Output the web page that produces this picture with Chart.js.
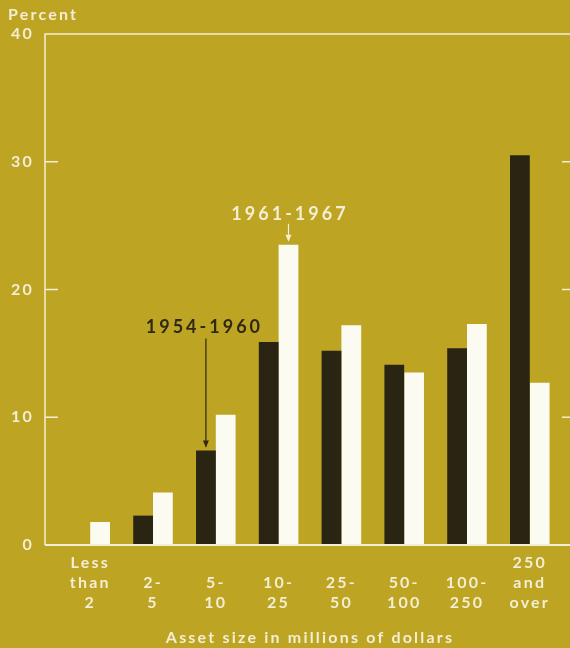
<!DOCTYPE html>
<html>
<head>
<meta charset="utf-8">
<script src="https://cdn.jsdelivr.net/npm/chart.js@4.4.1/dist/chart.umd.min.js"></script>
<style>
  html, body { margin: 0; padding: 0; background: #bda423; overflow: hidden; }
  #wrap { width: 570px; height: 648px; overflow: hidden; }
  canvas { display: block; }
</style>
</head>
<body>
<div id="wrap"><canvas id="chart" width="580" height="648"></canvas></div>
<script>
// asset size classes; short labels padded with blank lines so they sit on the bottom row
const categories = [
  ['Less', 'than', '2'],
  ['', '2-', '5'],
  ['', '5-', '10'],
  ['', '10-', '25'],
  ['', '25-', '50'],
  ['', '50-', '100'],
  ['', '100-', '250'],
  ['250', 'and', 'over']
];
const period1 = '1954-1960';
const period2 = '1961-1967';
const values1 = [0, 2.3, 7.4, 15.9, 15.2, 14.1, 15.4, 30.5];
const values2 = [1.8, 4.1, 10.2, 23.5, 17.2, 13.5, 17.3, 12.7];
const yTicks = [0, 10, 20, 30, 40];

const cream = '#f4eed4';
const dark = '#2a2412';
const font = 'Lato, "Open Sans", sans-serif';

// frame, inward tick marks and the two period callouts
const decor = {
  id: 'decor',
  beforeDraw(chart) {
    chart.ctx.letterSpacing = '2.2px';
  },
  afterDatasetsDraw(chart) {
    const { ctx, chartArea: a, scales: { y } } = chart;
    ctx.save();
    ctx.strokeStyle = cream;
    ctx.lineWidth = 1.5;
    ctx.beginPath();
    ctx.moveTo(a.left, a.bottom);
    ctx.lineTo(a.left, a.top);
    ctx.lineTo(a.right, a.top);
    ctx.lineTo(a.right, a.bottom);
    ctx.stroke();
    ctx.lineWidth = 2;
    ctx.beginPath();
    ctx.moveTo(a.left, a.bottom);
    ctx.lineTo(a.right, a.bottom);
    ctx.stroke();
    ctx.lineWidth = 1.5;
    yTicks.slice(1, -1).forEach(v => {
      const py = y.getPixelForValue(v);
      ctx.beginPath();
      ctx.moveTo(a.left, py);
      ctx.lineTo(a.left + 13, py);
      ctx.moveTo(a.right, py);
      ctx.lineTo(a.right - 13, py);
      ctx.stroke();
    });

    const callout = (bar, text, color, gap, arrowTop, dx) => {
      ctx.fillStyle = color;
      ctx.strokeStyle = color;
      ctx.letterSpacing = '3px';
      ctx.font = 'bold 18px ' + font;
      ctx.textAlign = 'center';
      ctx.textBaseline = 'middle';
      ctx.fillText(text, bar.x + dx + 1.5, bar.y - gap);
      ctx.lineWidth = 1.2;
      ctx.beginPath();
      ctx.moveTo(bar.x, bar.y - arrowTop);
      ctx.lineTo(bar.x, bar.y - 4);
      ctx.stroke();
      ctx.beginPath();
      ctx.moveTo(bar.x, bar.y - 3);
      ctx.lineTo(bar.x - 3, bar.y - 10);
      ctx.lineTo(bar.x + 3, bar.y - 10);
      ctx.closePath();
      ctx.fill();
    };
    callout(chart.getDatasetMeta(0).data[2], period1, '#2e2914', 123, 112, -3);
    callout(chart.getDatasetMeta(1).data[3], period2, cream, 31, 21, 0);
    ctx.restore();
  }
};

new Chart(document.getElementById('chart'), {
  type: 'bar',
  data: {
    datasets: [
      {
        label: period1,
        data: values1.map((v, i) => ({ x: i, y: v })),
        backgroundColor: dark,
        borderWidth: 0
      },
      {
        label: period2,
        data: values2.map((v, i) => ({ x: i, y: v })),
        backgroundColor: '#fcfbf2',
        borderWidth: 0
      }
    ]
  },
  options: {
    responsive: false,
    animation: false,
    categoryPercentage: 0.63,
    barPercentage: 1,
    layout: { padding: { left: 8, right: 5, top: 0, bottom: 0 } },
    plugins: {
      legend: { display: false },
      tooltip: { enabled: false },
      title: {
        display: true,
        text: 'Percent',
        align: 'start',
        color: cream,
        font: { family: font, size: 16, weight: 'bold', lineHeight: '18px' },
        padding: { top: 6, bottom: 10 }
      }
    },
    scales: {
      x: {
        type: 'linear',
        offset: false,
        min: -0.72,
        max: 7.72,
        afterFit: s => { s.height = 103; },
        afterBuildTicks: s => { s.ticks = categories.map((_, i) => ({ value: i })); },
        grid: { display: false, drawTicks: false, offset: false },
        border: { display: false },
        ticks: {
          color: cream,
          padding: 8,
          autoSkip: false,
          maxRotation: 0,
          font: { family: font, size: 16, weight: 'bold', lineHeight: '20px' },
          callback: v => categories[v]
        },
        title: {
          display: true,
          text: 'Asset size in millions of dollars',
          color: cream,
          font: { family: font, size: 16, weight: 'bold', lineHeight: '18px' },
          padding: { top: 0, bottom: 1 }
        }
      },
      y: {
        min: 0,
        max: 40,
        afterFit: s => { s.width = 37; },
        afterBuildTicks: s => { s.ticks = yTicks.map(v => ({ value: v })); },
        grid: { display: false, drawTicks: false },
        border: { display: false },
        ticks: {
          color: cream,
          padding: 11,
          font: { family: font, size: 16, weight: 'bold' }
        }
      }
    }
  },
  plugins: [decor]
});
</script>
</body>
</html>
